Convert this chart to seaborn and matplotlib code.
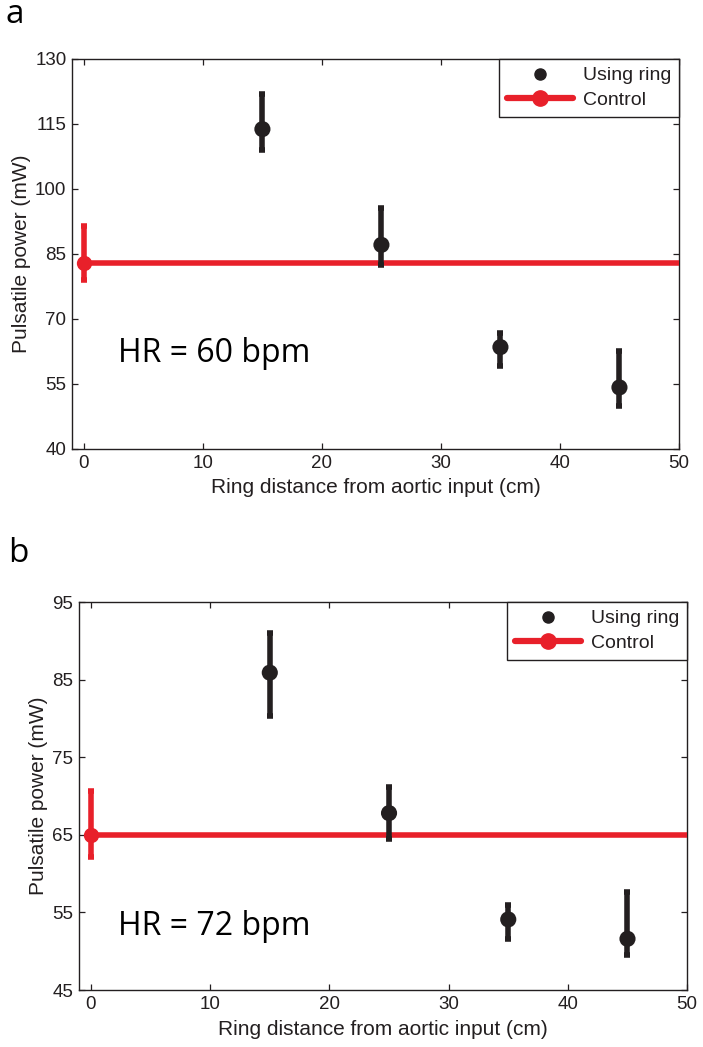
import numpy as np
import pandas as pd
import seaborn as sns
import matplotlib.pyplot as plt
from matplotlib.lines import Line2D

# ring positions (cm from aortic input)
ring_x = [15, 25, 35, 45]

# panel a, HR = 60 bpm
ring_a = [113.8, 87.1, 63.5, 54.2]
ring_a_lo = [109.1, 82.5, 59.2, 49.8]
ring_a_hi = [121.9, 95.5, 66.8, 62.5]
control_a = 83.0
control_a_lo = 79.0
control_a_hi = 91.4

# panel b, HR = 72 bpm
ring_b = [85.9, 67.8, 54.1, 51.6]
ring_b_lo = [80.3, 64.4, 51.6, 49.5]
ring_b_hi = [91.0, 71.1, 55.9, 57.6]
control_b = 65.0
control_b_lo = 62.2
control_b_hi = 70.6

control_x = [0, 50]

BLACK = "#231F20"
RED = "#E8202A"

sns.set_style("ticks")
plt.rcParams["font.family"] = ["Liberation Sans", "DejaVu Sans"]
plt.rcParams["text.color"] = BLACK
plt.rcParams["axes.labelcolor"] = BLACK
plt.rcParams["xtick.color"] = BLACK
plt.rcParams["ytick.color"] = BLACK

fig = plt.figure(figsize=(7.03, 10.47), dpi=100)
ax_a = fig.add_axes([0.1024, 0.5712, 0.8634, 0.3725])
ax_b = fig.add_axes([0.1124, 0.0544, 0.8650, 0.3706])


def panel(ax, ring, lo, hi, ctrl, ctrl_lo, ctrl_hi, ylim, yticks, hr_text, hr_pos):
    df = pd.DataFrame({"x": ring_x, "y": ring, "lo": lo, "hi": hi})
    ctrl_df = pd.DataFrame({"x": control_x, "y": [ctrl, ctrl]})

    # control line with marker at 0
    sns.lineplot(data=ctrl_df, x="x", y="y", ax=ax, color=RED, lw=4,
                 marker="o", markersize=11, markevery=[0], markeredgewidth=0,
                 zorder=3, legend=False)
    ax.errorbar([0], [ctrl], yerr=[[ctrl - ctrl_lo], [ctrl_hi - ctrl]],
                fmt="none", ecolor=RED, elinewidth=4, capsize=2.5,
                capthick=4, zorder=3)

    # ring points
    ax.errorbar(df["x"], df["y"], yerr=[df["y"] - df["lo"], df["hi"] - df["y"]],
                fmt="none", ecolor=BLACK, elinewidth=4, capsize=2.5,
                capthick=4, zorder=4)
    sns.scatterplot(data=df, x="x", y="y", ax=ax, color=BLACK, s=135,
                    edgecolor="none", zorder=5, legend=False)

    ax.set_xlim(-1, 50)
    ax.set_ylim(*ylim)
    ax.set_xticks([0, 10, 20, 30, 40, 50])
    ax.set_yticks(yticks)
    ax.tick_params(direction="in", length=4, width=0.9, top=True, right=True,
                   labelsize=13.5, pad=4)
    for s in ax.spines.values():
        s.set_linewidth(1.0)
        s.set_color(BLACK)
    ax.set_xlabel("Ring distance from aortic input (cm)", fontsize=15, labelpad=5)
    ax.set_ylabel("Pulsatile power (mW)", fontsize=15, labelpad=3)

    ax.text(hr_pos[0], hr_pos[1], hr_text, transform=ax.transAxes,
            fontsize=23, family=["Open Sans", "DejaVu Sans"], color="black",
            va="baseline", ha="left")

    handles = [
        Line2D([], [], color=BLACK, marker="o", linestyle="none", markersize=8),
        Line2D([], [], color=RED, lw=4.5, marker="o", markersize=11),
    ]
    leg = ax.legend(handles, ["Using ring", "Control"], loc="upper right",
                    borderaxespad=0, fancybox=False, framealpha=1,
                    edgecolor=BLACK, fontsize=14, handlelength=3.4,
                    handletextpad=0.5, borderpad=0.4, labelspacing=0.35)
    leg.get_frame().set_linewidth(1.0)


panel(ax_a, ring_a, ring_a_lo, ring_a_hi, control_a, control_a_lo, control_a_hi,
      (40, 130), [40, 55, 70, 85, 100, 115, 130], "HR = 60 bpm", (0.076, 0.223))
panel(ax_b, ring_b, ring_b_lo, ring_b_hi, control_b, control_b_lo, control_b_hi,
      (45, 95), [45, 55, 65, 75, 85, 95], "HR = 72 bpm", (0.064, 0.142))

fig.text(0.008, 1 - 23 / 1047, "a", fontsize=24, family=["Open Sans", "DejaVu Sans"],
         va="baseline", color="black")
fig.text(0.012, 1 - 562 / 1047, "b", fontsize=24, family=["Open Sans", "DejaVu Sans"],
         va="baseline", color="black")

fig.savefig("out.png", dpi=100)
